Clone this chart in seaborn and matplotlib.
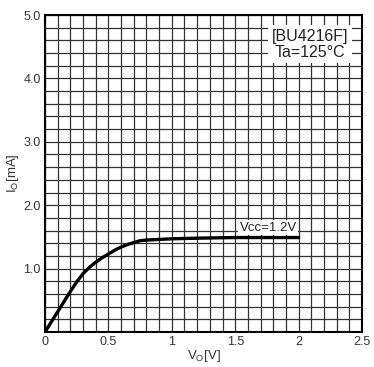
import numpy as np
import pandas as pd
import seaborn as sns
import matplotlib
matplotlib.use("Agg")
import matplotlib.pyplot as plt
from matplotlib.ticker import MultipleLocator

vo = [0.0, 0.1, 0.2, 0.25, 0.3, 0.35, 0.4, 0.45, 0.5, 0.55, 0.6, 0.65, 0.7, 0.75, 0.8, 0.9, 1.0, 1.2, 1.5, 1.8, 2.0]
io = [0.0, 0.32, 0.64, 0.79, 0.92, 1.02, 1.10, 1.17, 1.23, 1.29, 1.34, 1.38, 1.41, 1.44, 1.45, 1.46, 1.47, 1.48, 1.49, 1.49, 1.49]
xticks = [0, 0.5, 1, 1.5, 2, 2.5]
xticklabels = ["0", "0.5", "1", "1.5", "2", "2.5"]
yticks = [1.0, 2.0, 3.0, 4.0, 5.0]
yticklabels = ["1.0", "2.0", "3.0", "4.0", "5.0"]
curve_label = "Vcc=1.2V"
title_lines = "[BU4216F]\nTa=125°C"

sns.set_style("white")
plt.rcParams['font.family'] = ['Liberation Sans', 'DejaVu Sans']
plt.rcParams['mathtext.fontset'] = 'custom'
plt.rcParams['mathtext.rm'] = 'Liberation Sans'

df = pd.DataFrame({"vo": vo, "io": io})

fig = plt.figure(figsize=(3.74, 3.67), dpi=100)
ax = fig.add_axes([45/374, 35/367, 317/374, 317/367])
ax.set_xlim(0, 2.5)
ax.set_ylim(0, 5.0)
ax.xaxis.set_minor_locator(MultipleLocator(0.1))
ax.yaxis.set_minor_locator(MultipleLocator(0.2))
ax.grid(which='both', color='#333333', linewidth=0.9)
ax.set_axisbelow(True)

sns.lineplot(data=df, x="vo", y="io", color='black', linewidth=2.4, ax=ax, zorder=5)

ax.set_xticks(xticks)
ax.set_xticklabels(xticklabels)
ax.set_yticks(yticks)
ax.set_yticklabels(yticklabels)
ax.tick_params(axis='both', which='both', length=0, labelsize=9, colors='#333333', pad=3)
for s in ax.spines.values():
    s.set_color('black')
    s.set_linewidth(1.5)

ax.set_xlabel(r'V$_\mathregular{O}$[V]', fontsize=9.5, labelpad=0, color='#333333')
ax.set_ylabel(r'I$_\mathregular{O}$[mA]', fontsize=9.5, labelpad=2, color='#333333')

ax.text(1.76, 1.55, curve_label, fontsize=9.5, ha='center', va='bottom', zorder=6,
        color='#222222', bbox=dict(facecolor='white', edgecolor='none', pad=1.0))
ax.text(2.09, 4.78, title_lines, fontsize=11.5, ha='center', va='top', zorder=6,
        linespacing=1.05, color='#222222',
        bbox=dict(facecolor='white', edgecolor='none', pad=2.5))

fig.savefig("out.png", dpi=100)
